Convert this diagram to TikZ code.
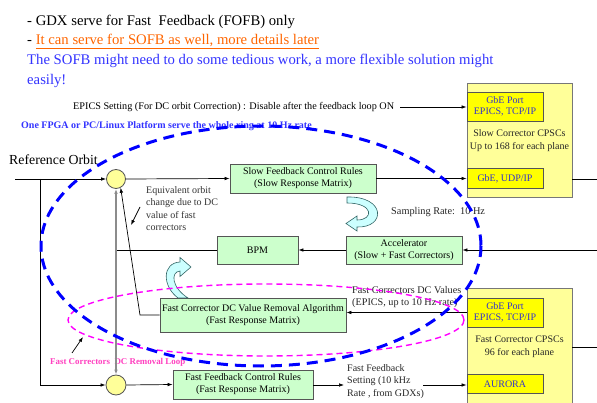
\documentclass[tikz,border=0pt]{standalone}
\usepackage{fontspec}
\setmainfont{Liberation Serif}
\usetikzlibrary{arrows.meta,calc}
\definecolor{boxgreen}{HTML}{CCFFCC}
\definecolor{paleyel}{HTML}{FFFF99}
\definecolor{brightyel}{HTML}{FFFF00}
\definecolor{porttext}{HTML}{3333CC}
\definecolor{headblue}{HTML}{3333FF}
\definecolor{headorange}{HTML}{FF6600}
\definecolor{loopblue}{HTML}{0000FF}
\definecolor{loopmag}{HTML}{FF00FF}
\definecolor{pinklabel}{HTML}{FF40C0}
\definecolor{edgegray}{HTML}{555555}
\definecolor{cyanfill}{HTML}{CCFFFF}
\definecolor{tealedge}{HTML}{336666}
\begin{document}
\begin{tikzpicture}[x=1pt,y=-1pt,
  arr/.style={-{Latex[length=5pt,width=3.6pt]}},
  conn/.style={line width=0.7pt, black},
  gbox/.style={draw=edgegray, line width=0.8pt, fill=boxgreen, align=center, inner sep=0pt,
    font=\fontsize{10}{12}\selectfont},
  bigbox/.style={draw=edgegray!80, line width=0.8pt, fill=paleyel, inner sep=0pt},
  portbox/.style={draw=edgegray, line width=0.8pt, fill=brightyel, align=center, inner sep=0pt,
    text=porttext, font=\fontsize{10}{12}\selectfont},
  sumnode/.style={circle, draw=edgegray, line width=0.8pt, fill=paleyel, inner sep=0pt, minimum size=19pt},
  small/.style={font=\fontsize{10}{12.5}\selectfont, align=left, inner sep=0pt},
  curvarrow/.style={draw=tealedge, line width=0.6pt, fill=cyanfill},
  headline/.style={anchor=base west, inner sep=0pt, font=\fontsize{14.7}{18}\selectfont}
]
\useasboundingbox (0,0) rectangle (597,403);
\fill[white] (0,0) rectangle (597,403);

% headline text
\node[headline] (h1) at (27,26) {- GDX serve for Fast\ \ Feedback (FOFB) only};
\node[headline] (h2) at (27,45) {- \textcolor{headorange}{\underline{It can serve for SOFB as well, more details later}}};
\node[headline, text=headblue] (h3) at (27,65) {The SOFB might need to do some tedious work, a more flexible solution might};
\node[headline, text=headblue] (h4) at (27,85) {easily!};

% big corrector boxes
\node[bigbox, minimum width=105pt, minimum height=114pt] (slowcps) at (519.5,140) {};
\node[bigbox, minimum width=105pt, minimum height=126pt] (fastcps) at (519.5,351) {};
\node[portbox, minimum width=76pt, minimum height=29pt] (gbe1) at (505,106.5) {GbE Port\\[-1pt]EPICS, TCP/IP};
\node[portbox, minimum width=76pt, minimum height=20pt] (udp) at (505,178.5) {GbE, UDP/IP};
\node[align=center, inner sep=0pt, font=\fontsize{10}{13}\selectfont, text=black!85] (slowtxt) at (519.5,141) {Slow Corrector CPSCs\\Up to 168 for each plane};
\node[portbox, minimum width=76pt, minimum height=29pt] (gbe2) at (505,312.5) {GbE Port\\[-1pt]EPICS, TCP/IP};
\node[portbox, minimum width=76pt, minimum height=19pt] (aurora) at (505,384) {AURORA};
\node[align=center, inner sep=0pt, font=\fontsize{10}{13}\selectfont, text=black!85] (fasttxt) at (519.5,347) {Fast Corrector CPSCs\\96 for each plane};

% green boxes
\node[gbox, minimum width=146pt, minimum height=29pt] (slowfb) at (303,178.5) {Slow Feedback Control Rules\\(Slow Response Matrix)};
\node[gbox, minimum width=81pt, minimum height=28pt] (bpm) at (257.5,250) {BPM};
\node[gbox, minimum width=116pt, minimum height=28pt] (accel) at (404,250) {Accelerator\\(Slow + Fast Correctors)};
\node[gbox, minimum width=186pt, minimum height=34pt] (dcrem) at (253,315) {Fast Corrector DC Value Removal Algorithm\\(Fast Response Matrix)};
\node[gbox, minimum width=140pt, minimum height=29pt] (ffb) at (243,384.5) {Fast Feedback Control Rules\\(Fast Response Matrix)};

% summing nodes
\node[sumnode] (s1) at (116,179) {};
\node[sumnode, minimum size=20pt] (s2) at (116,385) {};

% texts
\node[anchor=base west, inner sep=0pt, font=\fontsize{10.2}{12}\selectfont] (epics) at (73,110) {EPICS Setting (For DC orbit Correction) : Disable after the feedback loop ON};
\node[anchor=base west, inner sep=0pt, font=\bfseries\fontsize{10}{12}\selectfont, text=headblue] (onefpga) at (21,128.5) {One FPGA or PC/Linux Platform serve the whole ring at 10 Hz rate};
\node[anchor=base west, inner sep=0pt, font=\fontsize{13.8}{15}\selectfont] (reforb) at (9,165) {Reference Orbit};
\node[small, anchor=north west, text=black!80] (equiv) at (146,186) {Equivalent orbit\\change due to DC\\value of fast\\correctors};
\node[anchor=base west, inner sep=0pt, font=\fontsize{10.3}{12}\selectfont, text=black!85] (samp) at (391,215) {Sampling Rate:\ \ 10 Hz};
\node[small, anchor=north west, font=\fontsize{10.2}{12.5}\selectfont, text=black!85] (dcvals) at (352,286) {Fast Correctors DC Values\\(EPICS, up to 10 Hz rate)};
\node[small, anchor=north west, font=\fontsize{10}{12.5}\selectfont, text=black!85] (ffset) at (347,364) {Fast Feedback\\Setting (10 kHz\\Rate , from GDXs)};
\node[anchor=base west, inner sep=0pt, font=\bfseries\fontsize{8.9}{12}\selectfont, text=pinklabel] (dclabel) at (50,364) {Fast Correctors\ \ DC Removal Loop};

% coordinates
\coordinate (refstart) at (15,179);
\coordinate (jref) at (40,179);
\coordinate (epicsend) at (400,107);
\coordinate (slowout) at (597,179);
\coordinate (accin) at (597,250);
\coordinate (fastout) at (597,347);
\coordinate (jbpm) at (116,250);
\coordinate (dcbend) at (140,315);
\coordinate (eqfrom) at (140,207);
\coordinate (eqto) at (131,225);
\coordinate (fftip) at (344,385);
\coordinate (ffstart) at (423,385);
\coordinate (lblfrom) at (72,353);
\coordinate (lblto) at (83,337);

% connectors
\draw[conn, arr] (refstart) -- (s1.west);
\draw[conn, arr] (s1.east) -- (slowfb.west);
\draw[conn, arr] (slowfb.east) -- (slowfb.east -| udp.west);
\draw[conn, arr] (jref) |- (s2.west);
\draw[conn, arr] (epicsend) -- (epicsend -| gbe1.west);
\draw[conn] (slowcps.east |- slowout) -- (slowout);
\draw[conn, arr] (accin) -- (accel.east);
\draw[conn, arr] (accel.west) -- (bpm.east);
\draw[conn] (bpm.west) -- (jbpm);
\draw[line width=1.5pt, black!45, arr] (jbpm) -- (s1.south);
\draw[line width=1.5pt, black!45, arr] (jbpm) -- (s2.north);
\draw[conn, arr] (dcrem.west) -- (dcbend) -- (s1.-62);
\draw[conn, arr] (eqfrom) -- (eqto);
\draw[conn, arr] (gbe2.west) -- (gbe2.west -| dcrem.east);
\draw[conn] (fastcps.east |- fastout) -- (fastout);
\draw[conn, arr] (s2.east) -- (ffb.west);
\draw[conn, arr] (ffb.east |- fftip) -- (fftip);
\draw[conn, arr] (ffstart) -- (ffstart -| aurora.west);
\draw[conn, arr] (lblfrom) -- (lblto);

% curved block arrows
\path[curvarrow] (347,197) .. controls (386,196) and (386,228) .. (357,227) -- (357,231) -- (346,223.5) -- (357,216) -- (357,220) .. controls (374,220) and (374,203) .. (347,203) -- cycle;
\path[curvarrow] (178,298) .. controls (162,286) and (162,263) .. (180,262) -- (180,257.5) -- (191,267) -- (180,276.5) -- (180,271) .. controls (170,272) and (172,288) .. (188,298) -- cycle;

% dashed loops
\draw[loopmag, line width=1.4pt, dash pattern=on 6pt off 4pt] (266,320) ellipse [x radius=198, y radius=36];
\draw[loopblue, line width=3pt, dash pattern=on 11pt off 7pt] (261,246) ellipse [x radius=220, y radius=120];
\end{tikzpicture}
\end{document}
